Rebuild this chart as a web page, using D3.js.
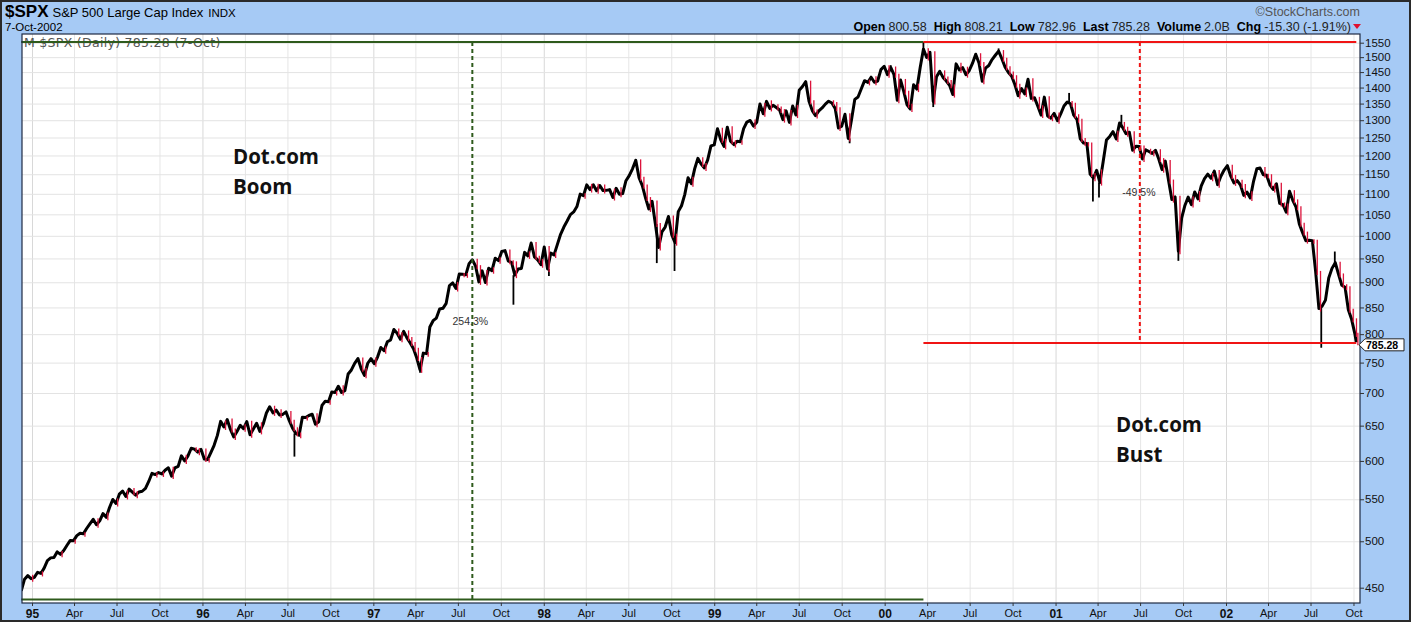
<!DOCTYPE html>
<html><head><meta charset="utf-8">
<script src="https://cdn.jsdelivr.net/npm/d3@7"></script>
<style>
html,body{margin:0;padding:0;background:#fff;}
svg{display:block;font-family:"Liberation Sans",Arial,sans-serif;}
</style></head>
<body><svg id="c" width="1412" height="624"></svg>
<script>
// ---------- DATA (weekly Friday closes) ----------
const firstWeek = "1994-12-09";
const closes1994 = [446.9, 458.8, 462.5, 459.3];
const closes1995 = [460.7,466.0,464.8,470.4,478.6,481.5,482.0,488.1,485.4,489.6,495.5,501.0,500.7,506.4,509.2,508.5,514.7,520.1,525.6,519.2,523.7,532.5,527.9,539.8,549.7,544.8,556.4,560.3,553.5,562.9,558.9,555.1,559.2,560.1,563.8,572.7,583.4,581.7,584.4,582.5,587.5,590.7,579.7,590.6,592.7,607.0,600.0,607.0,617.5,616.3,612.0,615.9];
const closes1996 = [602.7,601.8,611.4,621.6,635.8,656.4,648.0,659.1,644.4,633.5,641.4,650.6,645.5,655.9,636.7,645.1,653.5,641.6,652.1,668.9,678.5,669.1,673.3,665.9,666.8,670.6,657.4,646.2,638.7,635.9,662.5,662.1,665.2,667.0,652.0,655.7,680.5,687.0,686.2,701.5,700.7,710.8,700.9,703.8,730.8,737.6,748.7,757.0,739.6,728.6,748.9,756.8];
const closes1997 = [748.0,759.5,776.2,770.5,786.2,789.6,808.5,801.8,790.8,805.0,793.2,784.1,773.9,757.9,737.7,766.3,765.4,813.0,824.8,829.8,847.0,848.3,858.0,893.3,898.7,887.3,916.9,916.7,915.3,938.8,947.1,933.5,900.8,923.5,899.5,929.1,923.9,950.5,945.2,965.0,967.0,944.2,941.6,914.6,927.5,928.4,963.1,955.4,983.8,953.4,946.8,936.5];
const closes1998 = [975.0,927.7,961.5,957.6,980.3,1003.5,1020.1,1034.2,1049.3,1055.7,1068.6,1099.2,1095.4,1122.7,1110.7,1122.7,1107.9,1121.0,1108.1,1108.7,1110.5,1090.8,1113.9,1098.8,1100.7,1133.2,1146.4,1164.3,1186.8,1140.8,1120.7,1089.5,1062.8,1081.2,1027.1,973.9,1009.1,1020.1,1044.8,1002.6,984.6,1056.4,1070.7,1098.7,1141.0,1125.7,1163.6,1192.3,1176.7,1166.5,1188.0,1226.3];
const closes1999 = [1229.2,1275.1,1243.3,1225.2,1279.6,1239.4,1230.1,1239.2,1238.3,1275.5,1294.6,1299.3,1282.8,1293.7,1348.4,1319.0,1356.9,1335.2,1345.0,1337.8,1330.3,1301.8,1327.8,1293.6,1342.8,1315.3,1391.2,1403.3,1418.8,1356.9,1328.7,1313.7,1327.7,1336.6,1348.3,1357.2,1351.7,1335.4,1277.4,1282.8,1317.6,1247.4,1301.7,1362.9,1370.2,1396.1,1422.0,1416.6,1433.3,1417.0,1421.0,1458.3,1469.3];
const closes2000 = [1441.5,1465.2,1441.4,1360.2,1424.4,1387.1,1346.1,1333.4,1409.2,1395.1,1464.5,1527.5,1498.6,1516.4,1356.6,1434.5,1452.4,1432.6,1421.0,1407.0,1378.0,1477.3,1457.0,1464.5,1441.5,1454.6,1478.9,1510.0,1480.2,1419.9,1462.9,1471.8,1491.7,1506.5,1520.8,1494.5,1465.8,1448.7,1436.5,1409.0,1374.2,1396.9,1379.6,1426.7,1366.0,1367.7,1341.8,1315.2,1369.9,1312.2,1306.0,1320.3];
const closes2001 = [1298.4,1318.6,1342.5,1355.0,1349.5,1314.8,1301.5,1245.9,1234.2,1233.4,1150.5,1139.8,1160.3,1128.4,1183.5,1243.0,1253.1,1266.6,1245.7,1292.0,1277.9,1260.7,1265.0,1214.4,1225.4,1224.4,1190.6,1215.7,1210.9,1205.8,1214.4,1190.2,1162.0,1184.9,1133.6,1085.8,1092.5,965.8,1040.9,1071.4,1091.7,1073.5,1104.6,1087.2,1120.3,1138.7,1150.3,1139.5,1158.3,1123.1,1144.9,1161.0];
const closes2002 = [1172.5,1145.6,1127.6,1133.3,1122.2,1096.2,1104.2,1089.8,1131.8,1164.3,1166.2,1148.7,1147.4,1122.7,1111.0,1125.2,1076.3,1073.4,1055.0,1106.6,1083.8,1067.1,1027.5,1007.3,989.1,989.8,989.0,921.4,847.8,852.8,864.2,908.6,928.8,940.9,916.1,893.9,889.8,845.4,827.4,800.6];
const lastDate = "2002-10-07";
const lastClose = 785.28;

// notable intraday extremes visible as spikes
const spikeDates  = ["1996-07-16","1997-04-11","1997-10-28","1998-01-12","1998-07-17","1998-08-31","1998-10-08","1999-07-16","1999-10-18","2000-01-14","2000-03-24","2000-04-14","2000-09-01","2001-01-30","2001-03-22","2001-04-04","2001-05-22","2001-09-21","2002-07-24","2002-08-22"];
const spikeValues = [605.9,733.0,855.3,912.8,1190.6,940.0,923.3,1420.3,1233.7,1473.0,1552.9,1339.4,1530.1,1383.0,1081.2,1091.0,1315.9,944.8,775.7,965.0];

const yTicks = [450,500,550,600,650,700,750,800,850,900,950,1000,1050,1100,1150,1200,1250,1300,1350,1400,1450,1500,1550];
const monthNames = ["Jan","Apr","Jul","Oct"];

const boomHigh = 1552.87, boomLow = 438.19, bustLow = 784.3;
const boomStart = "1994-12-09", peakDate = "2000-03-24";
const boomPct = "254.3%", bustPct = "-49.5%";

// ---------- SETUP ----------
const parse = d3.timeParse("%Y-%m-%d");
const allCloses = [].concat(closes1994,closes1995,closes1996,closes1997,closes1998,closes1999,closes2000,closes2001,closes2002);
const start = parse(firstWeek);
const series = allCloses.map((c,i)=>({date:d3.timeDay.offset(start,i*7), close:c}));
series.push({date:parse(lastDate), close:lastClose});

const L=22, R=1360, T=34, B=603;
const x = d3.scaleTime().domain([new Date(1995,0,1), new Date(2002,0,1)]).range([32,1226]);
const y = d3.scaleLog().domain([450,1550]).range([587.7,42.7]);

const svg = d3.select("#c");
svg.append("rect").attr("x",1).attr("y",1).attr("width",1409).attr("height",620)
   .attr("fill","#a6caf5").attr("stroke","#2a2a2a").attr("stroke-width",2);
svg.append("rect").attr("x",L).attr("y",T).attr("width",R-L).attr("height",B-T).attr("fill","#fff");

svg.append("clipPath").attr("id","clip").append("rect").attr("x",L).attr("y",T).attr("width",R-L).attr("height",B-T);

// grid
const xTickVals = d3.timeMonth.every(3).range(new Date(1995,0,1), new Date(2002,10,1));
const gx = svg.append("g").attr("transform",`translate(0,${B})`)
  .call(d3.axisBottom(x).tickValues(xTickVals).tickSize(-(B-T)).tickFormat(""));
gx.select(".domain").remove();
gx.selectAll("line").attr("stroke",d=>d.getMonth()===0?"#d8d8d8":"#e6e6e6");
const gy = svg.append("g").attr("transform",`translate(${R},0)`)
  .call(d3.axisLeft(y).tickValues(yTicks).tickSize(R-L).tickFormat(""));
gy.select(".domain").remove();
gy.selectAll("line").attr("stroke","#e3e3e3");

// legend text
svg.append("text").attr("x",24).attr("y",47).attr("font-size",12.5).attr("fill","#555")
   .attr("font-family","DejaVu Sans, Verdana, sans-serif")
   .attr("letter-spacing",0.3).text("M $SPX (Daily) 785.28 (7-Oct)");

// data
const plot = svg.append("g").attr("clip-path","url(#clip)");
const line = d3.line().x(d=>x(d.date)).y(d=>y(d.close));
plot.append("path").datum(series).attr("d",line).attr("fill","none")
    .attr("stroke","#000").attr("stroke-width",3).attr("stroke-linejoin","round");
const bisect = d3.bisector(d=>d.date).center;
plot.selectAll("line.sp").data(spikeDates.map((d,i)=>({date:parse(d),v:spikeValues[i]})))
  .join("line").attr("class","sp")
  .attr("x1",d=>x(d.date)).attr("x2",d=>x(d.date))
  .attr("y1",d=>y(series[bisect(series,d.date)].close)).attr("y2",d=>y(d.v))
  .attr("stroke","#000").attr("stroke-width",1.8);
const downs = series.map((d,i)=>({d,p:series[i-1]})).filter(o=>o.p && o.d.close<o.p.close);
plot.selectAll("line.dn").data(downs).join("line").attr("class","dn")
  .attr("x1",o=>x(o.d.date)+1.6).attr("x2",o=>x(o.d.date)+1.6)
  .attr("y1",o=>y(o.p.close)-1).attr("y2",o=>y(o.d.close)+3)
  .attr("stroke","#dc143c").attr("stroke-width",1.3);

// measurement lines
const green="#2e5a1c", red="#f01414";
const xs=x(parse(boomStart)), xp=x(parse(peakDate)), xe=x(parse(lastDate));
svg.append("line").attr("x1",xs).attr("x2",xp).attr("y1",y(boomHigh)).attr("y2",y(boomHigh)).attr("stroke",green).attr("stroke-width",2);
svg.append("line").attr("x1",xs).attr("x2",xp).attr("y1",y(boomLow)).attr("y2",y(boomLow)).attr("stroke",green).attr("stroke-width",2);
svg.append("line").attr("x1",(xs+xp)/2).attr("x2",(xs+xp)/2).attr("y1",y(boomHigh)).attr("y2",y(boomLow)).attr("stroke",green).attr("stroke-width",2).attr("stroke-dasharray","4,3");
svg.append("line").attr("x1",xp).attr("x2",xe).attr("y1",y(boomHigh)).attr("y2",y(boomHigh)).attr("stroke",red).attr("stroke-width",2);
svg.append("line").attr("x1",xp).attr("x2",xe).attr("y1",y(bustLow)).attr("y2",y(bustLow)).attr("stroke",red).attr("stroke-width",2);
svg.append("line").attr("x1",(xp+xe)/2).attr("x2",(xp+xe)/2).attr("y1",y(boomHigh)).attr("y2",y(bustLow)).attr("stroke",red).attr("stroke-width",2).attr("stroke-dasharray","4,3");
svg.append("text").attr("x",(xs+xp)/2-2).attr("y",y(Math.sqrt(boomHigh*boomLow))+4).attr("text-anchor","middle")
   .attr("font-size",10.5).attr("fill","#333").text(boomPct);
svg.append("text").attr("x",(xp+xe)/2-1).attr("y",y(Math.sqrt(boomHigh*bustLow))+4).attr("text-anchor","middle")
   .attr("font-size",10.5).attr("fill","#333").text(bustPct);

// plot frame
svg.append("rect").attr("x",L).attr("y",T).attr("width",R-L).attr("height",B-T).attr("fill","none").attr("stroke","#1f2a44").attr("stroke-width",1.2);

// axes
const ax = svg.append("g").attr("transform",`translate(0,${B})`)
  .call(d3.axisBottom(x).tickValues(xTickVals).tickSize(3).tickPadding(3)
     .tickFormat(d=>d.getMonth()===0?d3.timeFormat("%y")(d):monthNames[d.getMonth()/3]));
ax.select(".domain").remove();
ax.selectAll("line").attr("stroke","#333");
ax.selectAll("text").attr("font-size",d=>d.getMonth()===0?12:11).attr("font-weight",d=>d.getMonth()===0?"bold":"normal")
  .attr("fill","#111").attr("font-family","Liberation Sans, Arial");
const ay = svg.append("g").attr("transform",`translate(${R},0)`)
  .call(d3.axisRight(y).tickValues(yTicks).tickSize(4).tickPadding(1).tickFormat(d3.format("d")));
ay.select(".domain").remove();
ay.selectAll("line").attr("stroke","#333");
ay.selectAll("text").attr("font-size",11.5).attr("fill","#111").attr("font-family","Liberation Sans, Arial");

// last value tag
const ly=y(lastClose)+2.5;
svg.append("path").attr("d",`M${R-1},${ly} L${R+5},${ly-6} L${R+44},${ly-6} L${R+44},${ly+6} L${R+5},${ly+6} Z`)
   .attr("fill","#fff").attr("stroke","#222").attr("stroke-width",1);
svg.append("text").attr("x",R+6).attr("y",ly+4).attr("font-size",10.5).attr("font-weight","bold").attr("fill","#000").text("785.28");

// header
const h1 = svg.append("text").attr("x",5).attr("y",17);
h1.append("tspan").attr("font-size",17).attr("font-weight","bold").text("$SPX");
h1.append("tspan").attr("font-size",13).attr("dx",4).text("S&P 500 Large Cap Index");
h1.append("tspan").attr("font-size",11.5).attr("dx",5).text("INDX");
svg.append("text").attr("x",5).attr("y",31).attr("font-size",11.5).text("7-Oct-2002");
svg.append("text").attr("x",1360).attr("y",16).attr("text-anchor","end").attr("font-size",12.5).attr("fill","#555").text("©StockCharts.com");
const quote = [["Open","800.58"],["High","808.21"],["Low","782.96"],["Last","785.28"],["Volume","2.0B"],["Chg","-15.30 (-1.91%)"]];
const h2 = svg.append("text").attr("x",1351).attr("y",31).attr("text-anchor","end").attr("font-size",12.5);
quote.forEach((q,i)=>{
  h2.append("tspan").attr("font-weight","bold").attr("dx",i?7:0).text(q[0]);
  h2.append("tspan").attr("dx",3).attr("fill","#222").text(q[1]);
});
svg.append("path").attr("d","M1353,24 L1361,24 L1357,29 Z").attr("fill","#e01030");

// annotations
const ann = [["Dot.com",233,164],["Boom",233,194],["Dot.com",1116,432],["Bust",1116,462]];
svg.selectAll("text.ann").data(ann).join("text").attr("class","ann")
  .attr("x",d=>d[1]).attr("y",d=>d[2]).attr("font-family","Open Sans, Liberation Sans, sans-serif")
  .attr("font-weight","bold").attr("font-size",20.5).attr("fill","#111").text(d=>d[0]);
</script></body></html>
